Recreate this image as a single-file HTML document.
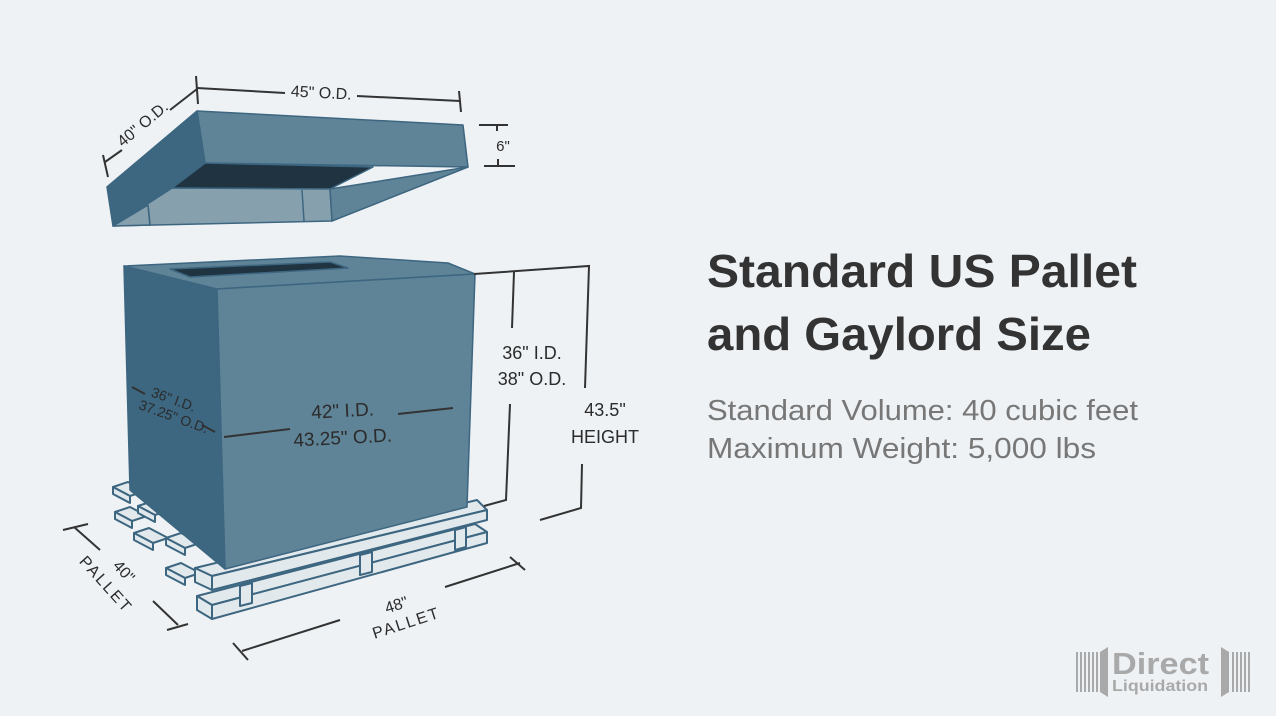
<!DOCTYPE html>
<html><head><meta charset="utf-8"><style>
html,body{margin:0;padding:0;background:#eef2f5;}
svg{display:block;}
text{font-family:"Liberation Sans",sans-serif;}
</style></head><body>
<svg width="1276" height="716" viewBox="0 0 1276 716" xmlns="http://www.w3.org/2000/svg">
<rect width="1276" height="716" fill="#eef2f5"/>

<!-- LID -->
<g stroke="#3d6680" stroke-width="1.5" stroke-linejoin="round">
<polygon points="197,111 463,125 468,167 205,163" fill="#5f8397"/>
<polygon points="205,163 373,167 330,189 172,188" fill="#1f3340"/>
<polygon points="172,188 330,189 332,221 113,226" fill="#87a0ae"/>
<polygon points="330,189 468,167 332,221" fill="#5f8397"/>
<polygon points="107,187 197,111 205,163 172,188 113,226" fill="#3d6680"/>
<polygon points="113,226 148,205 150,225" fill="#87a0ae"/>
<line x1="148" y1="205" x2="150" y2="225"/>
<line x1="302" y1="190" x2="304" y2="221"/>
</g>

<!-- PALLET -->
<g stroke="#3d6680" stroke-width="2" stroke-linejoin="round" fill="#e2e9ed">
<!-- bottom board -->
<polygon points="197,596 475,524 487,532 212,605"/>
<polygon points="197,596 212,605 212,619 197,610"/>
<polygon points="212,605 487,532 487,543 212,619"/>
<!-- stringers -->
<polygon points="240,586 252,583 252,603 240,606"/>
<polygon points="360,555 372,552 372,572 360,575"/>
<polygon points="455,530 466,527 466,547 455,550"/>
<!-- left side blocks -->
<g>
<polygon points="113,487 128,482 145,491 130,496"/><polygon points="113,487 130,496 130,503 113,494"/>
<polygon points="115,512 130,507 147,516 132,521"/><polygon points="115,512 132,521 132,528 115,519"/>
<polygon points="138,506 153,501 170,510 155,515"/><polygon points="138,506 155,515 155,522 138,513"/>
<polygon points="134,533 149,528 168,538 153,543"/><polygon points="134,533 153,543 153,550 134,540"/>
<polygon points="166,538 181,533 200,543 185,548"/><polygon points="166,538 185,548 185,555 166,545"/>
<polygon points="166,568 181,563 200,573 185,578"/><polygon points="166,568 185,578 185,585 166,575"/>
</g>
<!-- top deck -->
<polygon points="195,568 477,500 487,510 212,576"/>
<polygon points="195,568 212,576 212,590 195,582"/>
<polygon points="212,576 487,510 487,520 212,590"/>
</g>

<!-- BOX -->
<g stroke="#3d6680" stroke-width="1.5" stroke-linejoin="round">
<polygon points="124,266 217,289 225,569 130,490" fill="#3d6680"/>
<polygon points="124,266 340,256 448,263 475,274 217,289" fill="#5f8397"/>
<polygon points="170,269 330,262 348,268 190,277" fill="#1f3340"/>
<polygon points="217,289 475,274 467,507 225,569" fill="#5f8397"/>
</g>

<!-- DIMENSION LINES -->
<g stroke="#333" stroke-width="2" fill="none">
<line x1="196" y1="76" x2="198" y2="104"/>
<line x1="197" y1="88" x2="285" y2="93"/>
<line x1="357" y1="96" x2="460" y2="101"/>
<line x1="459" y1="91" x2="461" y2="112"/>
<line x1="103" y1="155" x2="108" y2="177"/>
<line x1="105" y1="162" x2="122" y2="150"/>
<line x1="170" y1="110" x2="197" y2="89"/>
<line x1="479" y1="125" x2="508" y2="125"/>
<line x1="497" y1="125" x2="497" y2="131"/>
<line x1="484" y1="166" x2="515" y2="166"/>
<line x1="498" y1="159" x2="498" y2="166"/>
<polyline points="474,274 589,266 585,388"/>
<polyline points="514,272 512,328"/>
<polyline points="510,404 506,500 484,506"/>
<polyline points="582,464 581,508 540,520"/>
<line x1="224" y1="437" x2="290" y2="429"/>
<line x1="398" y1="414" x2="453" y2="408"/>
<line x1="132" y1="387" x2="145" y2="394"/>
<line x1="202" y1="425" x2="215" y2="432"/>
<line x1="63" y1="530" x2="88" y2="524"/>
<line x1="74" y1="527" x2="100" y2="550"/>
<line x1="153" y1="601" x2="178" y2="625"/>
<line x1="167" y1="630" x2="188" y2="624"/>
<line x1="233" y1="643" x2="248" y2="660"/>
<line x1="242" y1="651" x2="340" y2="620"/>
<line x1="445" y1="587" x2="520" y2="563"/>
<line x1="510" y1="557" x2="525" y2="570"/>
</g>

<!-- DIMENSION TEXT -->
<g fill="#2b2b2b" font-size="16">
<text x="321" y="98" text-anchor="middle" transform="rotate(3 321 98)">45" O.D.</text>
<text x="146" y="128" text-anchor="middle" transform="rotate(-40 146 128)">40" O.D.</text>
<text x="503" y="151" text-anchor="middle" font-size="15">6"</text>
<text x="532" y="359" text-anchor="middle" font-size="18">36" I.D.</text>
<text x="532" y="385" text-anchor="middle" font-size="18">38" O.D.</text>
<text x="605" y="416" text-anchor="middle" font-size="18">43.5"</text>
<text x="605" y="443" text-anchor="middle" font-size="18">HEIGHT</text>
<text x="343" y="417" text-anchor="middle" font-size="19" transform="rotate(-3 343 417)">42" I.D.</text>
<text x="343" y="444" text-anchor="middle" font-size="19" transform="rotate(-3 343 444)">43.25" O.D.</text>
<text x="172" y="404" text-anchor="middle" font-size="14" transform="rotate(20 172 404)">36" I.D.</text>
<text x="172" y="421" text-anchor="middle" font-size="14" transform="rotate(20 172 421)">37.25" O.D.</text>
<text x="120" y="575" text-anchor="middle" font-size="16" transform="rotate(48 120 575)">40"</text>
<text x="102" y="588" text-anchor="middle" font-size="16" letter-spacing="2" transform="rotate(48 102 588)">PALLET</text>
<text x="398" y="610" text-anchor="middle" font-size="16" transform="rotate(-18 398 610)">48"</text>
<text x="408" y="628" text-anchor="middle" font-size="16" letter-spacing="2" transform="rotate(-18 408 628)">PALLET</text>
</g>

<!-- TITLE -->
<text x="707" y="287" font-size="46" font-weight="bold" fill="#333" textLength="430" lengthAdjust="spacingAndGlyphs">Standard US Pallet</text>
<text x="707" y="350" font-size="46" font-weight="bold" fill="#333" textLength="384" lengthAdjust="spacingAndGlyphs">and Gaylord Size</text>
<text x="707" y="420" font-size="29" fill="#777" textLength="431" lengthAdjust="spacingAndGlyphs">Standard Volume: 40 cubic feet</text>
<text x="707" y="458" font-size="29" fill="#777" textLength="389" lengthAdjust="spacingAndGlyphs">Maximum Weight: 5,000 lbs</text>

<!-- LOGO -->
<g fill="#a9a9a9">
<rect x="1076" y="652" width="2" height="40"/><rect x="1080" y="652" width="2" height="40"/>
<rect x="1084" y="652" width="2" height="40"/><rect x="1088" y="652" width="2" height="40"/>
<rect x="1092" y="652" width="2" height="40"/><rect x="1096" y="652" width="2" height="40"/>
<polygon points="1100,652 1108,647 1108,697 1100,692"/>
<text x="1112" y="674" font-size="31" font-weight="bold" textLength="97" lengthAdjust="spacingAndGlyphs">Direct</text>
<text x="1112" y="691" font-size="16" font-weight="bold" textLength="96" lengthAdjust="spacingAndGlyphs">Liquidation</text>
<polygon points="1221,647 1229,652 1229,692 1221,697"/>
<rect x="1232" y="652" width="2" height="40"/><rect x="1236" y="652" width="2" height="40"/>
<rect x="1240" y="652" width="2" height="40"/><rect x="1244" y="652" width="2" height="40"/>
<rect x="1248" y="652" width="2" height="40"/>
</g>
</svg>
</body></html>
